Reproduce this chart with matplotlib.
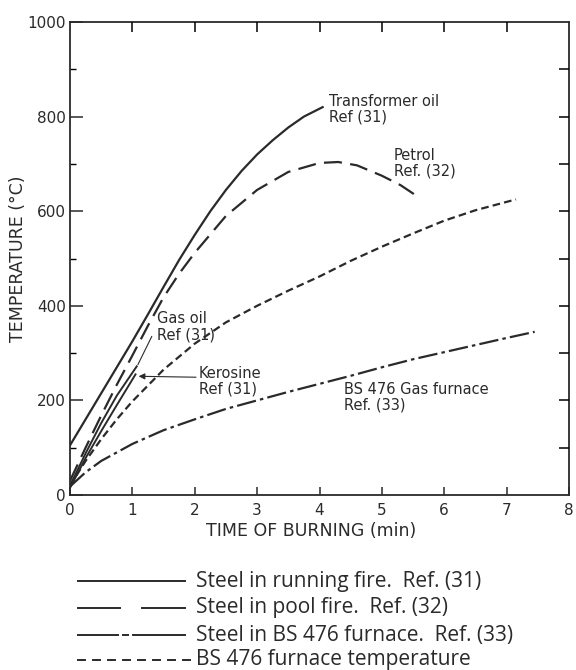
import matplotlib
matplotlib.use("Agg")
import matplotlib.pyplot as plt
from matplotlib.lines import Line2D
from matplotlib.ticker import MultipleLocator

# ---- data: time of burning (min) vs temperature (degC) ----
transformer_t = [0, 0.25, 0.5, 0.75, 1.0, 1.25, 1.5, 1.75, 2.0, 2.25, 2.5, 2.75, 3.0, 3.25, 3.5, 3.75, 4.05]
transformer_T = [105, 160, 215, 270, 325, 382, 440, 497, 550, 600, 645, 685, 720, 750, 777, 800, 820]

gas_oil_t = [0, 0.25, 0.5, 0.75, 1.07]
gas_oil_T = [20, 88, 152, 210, 272]

kerosine_t = [0, 0.25, 0.5, 0.75, 1.05]
kerosine_T = [15, 78, 135, 190, 255]

petrol_t = [0, 0.25, 0.5, 0.75, 1.0, 1.25, 1.5, 1.75, 2.0, 2.5, 3.0, 3.5, 4.0, 4.3, 4.6, 5.0, 5.3, 5.55]
petrol_T = [30, 100, 168, 233, 295, 358, 418, 468, 512, 590, 645, 683, 702, 704, 697, 675, 655, 633]

furnace_t = [0, 0.25, 0.5, 0.75, 1, 1.5, 2, 2.5, 3, 3.5, 4, 4.5, 5, 5.5, 6, 6.5, 7.15]
furnace_T = [20, 72, 118, 160, 198, 265, 320, 365, 400, 432, 462, 495, 525, 553, 580, 602, 625]

bs476_t = [0, 0.25, 0.5, 1, 1.5, 2, 2.5, 3, 3.5, 4, 4.5, 5, 5.5, 6, 6.5, 7, 7.45]
bs476_T = [18, 48, 72, 108, 137, 160, 182, 200, 218, 235, 252, 270, 287, 302, 317, 332, 345]

x_ticks = [0, 1, 2, 3, 4, 5, 6, 7, 8]
y_ticks = [0, 200, 400, 600, 800, 1000]

legend_labels = [
    "Steel in running fire.  Ref. (31)",
    "Steel in pool fire.  Ref. (32)",
    "Steel in BS 476 furnace.  Ref. (33)",
    "BS 476 furnace temperature",
]

# ---- styling ----
plt.rcParams["lines.scale_dashes"] = False
plt.rcParams["font.family"] = ["DejaVu Sans"]
INK = "#2a2a2a"
LONG_DASH = (13, 6)
SHORT_DASH = (5.5, 3)
DASH_DOT = (14, 3, 2.5, 3)

W, H = 576, 670
fig = plt.figure(figsize=(W / 100, H / 100), dpi=100)
fig.patch.set_facecolor("white")
ax_l, ax_r, ax_b, ax_t = 70, 569, 495, 22
ax = fig.add_axes([ax_l / W, 1 - ax_b / H, (ax_r - ax_l) / W, (ax_b - ax_t) / H])

ax.plot(transformer_t, transformer_T, color=INK, lw=1.6)
ax.plot(gas_oil_t, gas_oil_T, color=INK, lw=1.4)
ax.plot(kerosine_t, kerosine_T, color=INK, lw=1.4)
ax.plot(petrol_t, petrol_T, color=INK, lw=1.6, dashes=LONG_DASH)
ax.plot(furnace_t, furnace_T, color=INK, lw=1.6, dashes=SHORT_DASH)
ax.plot(bs476_t, bs476_T, color=INK, lw=1.6, dashes=DASH_DOT)

ax.set_xlim(0, 8)
ax.set_ylim(0, 1000)
for s in ax.spines.values():
    s.set_linewidth(1.3)
    s.set_color(INK)

ax.set_xticks(x_ticks)
ax.set_yticks(y_ticks)
ax.yaxis.set_minor_locator(MultipleLocator(100))
ax.tick_params(axis="y", which="major", direction="in", length=9, width=1.1,
               pad=3, labelsize=11, colors=INK)
ax.tick_params(axis="y", which="minor", direction="in", length=4.5, width=1.0)
ax.tick_params(axis="x", which="major", direction="in", length=6, width=1.1,
               pad=6, labelsize=11, colors=INK)

# inward ticks on the top and right frame
top = ax.twiny()
top.set_xlim(0, 8)
top.set_xticks(x_ticks[1:-1])
top.tick_params(axis="x", direction="in", length=7, width=1.1, labeltop=False)
right = ax.twinx()
right.set_ylim(0, 1000)
right.set_yticks(range(100, 1000, 100))
right.tick_params(axis="y", direction="in", length=7, width=1.1, labelright=False)
for a in (top, right):
    for s in a.spines.values():
        s.set_visible(False)

ax.set_xlabel("TIME OF BURNING (min)", fontsize=12.5, color=INK, va="center")
ax.xaxis.set_label_coords(0.483, -0.076)
ax.set_ylabel("TEMPERATURE (°C)", fontsize=12.5, color=INK, va="center")
ax.yaxis.set_label_coords(-0.104, 0.5)

# curve annotations
note = dict(fontsize=10.5, color=INK, linespacing=1.05, va="top", ha="left")
ax.text(4.15, 848, "Transformer oil\nRef (31)", **note)
ax.text(5.19, 733, "Petrol\nRef. (32)", **note)
ax.text(1.39, 388, "Gas oil\nRef (31)", **note)
ax.text(2.07, 273, "Kerosine\nRef (31)", **note)
ax.text(4.39, 239, "BS 476 Gas furnace\nRef. (33)", **note)
ax.plot([1.31, 1.09], [335, 276], color=INK, lw=0.8)
ax.annotate("", xy=(1.1, 251), xytext=(2.02, 249),
            arrowprops=dict(arrowstyle="-|>", lw=0.8, color=INK,
                            mutation_scale=9, shrinkA=0, shrinkB=0))

# key below the chart
rows_y = [581, 608, 635, 660]
samples = [
    [(78, 185)],
    [(78, 120), (142, 185)],
    [(78, 118), (123, 128), (133, 185)],
    [(78 + 15 * k, 85 + 15 * k) for k in range(8)],
]
for y, segs, label in zip(rows_y, samples, legend_labels):
    fy = 1 - y / H
    for x0, x1 in segs:
        fig.add_artist(Line2D([x0 / W, x1 / W], [fy, fy], color=INK, lw=1.4,
                              transform=fig.transFigure))
    fig.text(196 / W, fy, label, fontsize=15, color=INK, va="center", ha="left",
             family=["Open Sans", "DejaVu Sans"])

fig.savefig("out.png", dpi=100, facecolor="white")
